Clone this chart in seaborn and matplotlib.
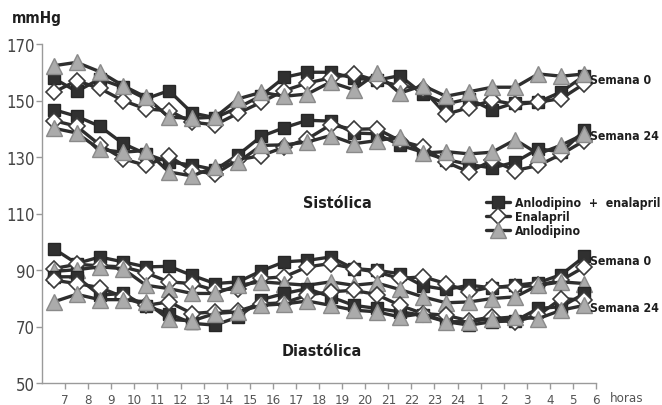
import numpy as np
import pandas as pd
import matplotlib
matplotlib.use("Agg")
import matplotlib.pyplot as plt
from matplotlib.lines import Line2D
from matplotlib import font_manager
import seaborn as sns

# Hourly ambulatory blood-pressure means (half-hour centred), 07h -> 06h
hour_labels = ["7", "8", "9", "10", "11", "12", "13", "14", "15", "16", "17", "18",
               "19", "20", "21", "22", "23", "24", "1", "2", "3", "4", "5", "6"]

# Systolic, week 0
sys0_combo = [157.9, 153.2, 157.6, 154.7, 150.6, 153.5, 145.6, 143.9, 147.5, 151.7, 158.2, 160.0,
              160.0, 157.9, 157.2, 158.8, 152.3, 148.8, 150.6, 146.6, 149.2, 149.4, 153.1, 158.8]
sys0_enal = [152.9, 157.0, 154.3, 150.0, 147.0, 146.4, 142.3, 141.4, 145.5, 149.4, 153.5, 156.2,
             158.0, 159.5, 157.0, 155.3, 154.0, 145.1, 147.5, 150.1, 148.6, 149.4, 150.7, 156.0]
sys0_anlo = [162.3, 163.5, 160.2, 155.3, 151.2, 144.1, 143.7, 144.1, 150.6, 152.9, 151.5, 152.3,
             156.5, 153.8, 159.6, 152.6, 155.3, 151.5, 153.1, 154.7, 154.7, 159.4, 158.6, 159.4]
# Systolic, week 24
sys24_combo = [146.8, 144.4, 140.9, 134.8, 131.1, 128.2, 127.2, 125.5, 130.8, 137.3, 140.4, 143.0,
               142.7, 138.5, 138.2, 134.2, 131.7, 129.1, 127.4, 126.1, 128.2, 132.9, 131.8, 139.4]
sys24_enal = [142.9, 140.9, 134.3, 129.4, 127.0, 130.3, 125.2, 124.0, 129.0, 130.5, 133.5, 136.4,
              141.4, 139.8, 140.0, 135.8, 133.5, 128.2, 124.7, 128.8, 125.2, 127.0, 131.0, 135.8]
sys24_anlo = [140.2, 138.5, 132.7, 131.7, 132.3, 124.7, 123.3, 126.4, 128.2, 134.1, 134.3, 135.3,
              137.6, 134.7, 135.8, 137.0, 131.4, 131.9, 131.1, 131.7, 136.1, 131.1, 134.2, 138.2]
# Diastolic, week 0
dia0_combo = [97.6, 92.3, 94.6, 92.9, 91.1, 91.3, 88.1, 85.2, 85.8, 89.7, 92.9, 93.4,
              94.6, 90.5, 89.9, 88.7, 84.4, 83.1, 84.6, 83.7, 84.6, 85.5, 88.4, 94.8]
dia0_enal = [90.5, 92.0, 91.5, 91.1, 89.0, 85.8, 85.2, 82.8, 83.4, 87.0, 87.6, 91.1,
             92.3, 90.5, 89.3, 87.0, 87.6, 85.2, 82.3, 84.0, 84.0, 84.6, 86.4, 91.1]
dia0_anlo = [89.5, 90.1, 91.1, 90.5, 84.6, 83.4, 81.7, 81.7, 84.6, 85.8, 85.2, 84.6,
             85.8, 84.6, 85.4, 83.1, 80.5, 78.4, 78.7, 79.9, 80.5, 84.6, 85.8, 85.2]
# Diastolic, week 24
dia24_combo = [87.6, 87.6, 81.1, 81.7, 77.2, 74.6, 71.1, 70.5, 73.4, 79.5, 81.7, 83.4,
               80.5, 77.5, 76.4, 75.2, 74.0, 71.7, 70.5, 71.7, 72.0, 76.4, 77.0, 81.7]
dia24_enal = [86.4, 85.2, 83.8, 80.5, 77.5, 78.7, 74.6, 75.2, 75.5, 78.0, 78.4, 81.1,
              82.3, 82.8, 81.3, 77.5, 74.6, 74.0, 72.0, 73.4, 71.7, 74.0, 79.9, 79.3]
dia24_anlo = [78.7, 81.4, 79.5, 79.5, 78.7, 72.5, 72.0, 74.6, 75.2, 77.5, 78.0, 79.0,
              77.5, 75.8, 75.2, 73.4, 74.6, 71.7, 71.7, 72.8, 73.4, 72.8, 75.8, 77.5]

groups = ["Anlodipino  +  enalapril", "Enalapril", "Anlodipino"]

# half-hour positions: 06:30 ... 05:30 of the next day
positions = np.arange(len(hour_labels)) + 6.5
tick_pos = np.arange(len(hour_labels)) + 7

series = {
    ("sys", "0"): [sys0_combo, sys0_enal, sys0_anlo],
    ("sys", "24"): [sys24_combo, sys24_enal, sys24_anlo],
    ("dia", "0"): [dia0_combo, dia0_enal, dia0_anlo],
    ("dia", "24"): [dia24_combo, dia24_enal, dia24_anlo],
}
rows = []
for (pressure, week), vals in series.items():
    for grp, v in zip(groups, vals):
        for x, y in zip(positions, v):
            rows.append({"pressure": pressure, "week": week, "grupo": grp,
                         "hora": x, "mmHg": y})
df = pd.DataFrame(rows)

sns.set_theme(style="white")

# narrow face for all labels
installed = {f.name for f in font_manager.fontManager.ttflist}
narrow = [n for n in ("Liberation Sans Narrow", "DejaVu Sans") if n in installed]
plt.rcParams["font.family"] = narrow + ["DejaVu Sans"]
plt.rcParams["font.stretch"] = "condensed"

line_col = "#2e2e2e"
styles = {
    "Anlodipino  +  enalapril": dict(marker="s", markersize=9, markerfacecolor="#303030",
                                     markeredgecolor="#262626", markeredgewidth=1.0),
    "Enalapril": dict(marker="D", markersize=7.8, markerfacecolor="white",
                      markeredgecolor="#3a3a3a", markeredgewidth=1.2),
    "Anlodipino": dict(marker="^", markersize=11, markerfacecolor="#ababab",
                       markeredgecolor="#8a8a8a", markeredgewidth=1.0),
}

fig = plt.figure(figsize=(6.62, 4.06), dpi=100)
ax = fig.add_axes([42 / 662, 22 / 406, (596 - 42) / 662, (384 - 45) / 406])

for (pressure, week), sub in df.groupby(["pressure", "week"], sort=False):
    for grp in groups:
        d = sub[sub["grupo"] == grp]
        sns.lineplot(data=d, x="hora", y="mmHg", ax=ax, color=line_col, linewidth=2.4,
                     estimator=None, sort=False, legend=False, clip_on=False,
                     **styles[grp])

ax.set_xlim(6, 30)
ax.set_ylim(50, 170)
ax.set_yticks(np.arange(50, 171, 20))
ax.set_xticks(tick_pos)
ax.set_xticklabels(hour_labels)
ax.set_xlabel("")
ax.set_ylabel("")
for side in ("top", "right"):
    ax.spines[side].set_visible(False)
for side in ("left", "bottom"):
    ax.spines[side].set_color("#9a9a9a")
    ax.spines[side].set_linewidth(1.0)
ax.tick_params(axis="y", which="both", left=True, direction="out", length=4, width=1,
               color="#9a9a9a", labelsize=12, labelcolor="#444444", pad=1)
ax.tick_params(axis="x", which="both", bottom=True, direction="out", length=4, width=1,
               color="#9a9a9a", labelsize=9.5, labelcolor="#555555", pad=3)

bold = dict(fontweight="bold", color="#1e1e1e")
fig.text(12 / 662, 1 - 18 / 406, "mmHg", fontsize=11, va="center", ha="left", **bold)
ax.text(18.8, 113.8, "Sistólica", fontsize=11.5, ha="center", va="center", **bold)
ax.text(18.1, 61.5, "Diastólica", fontsize=11.5, ha="center", va="center", **bold)
fig.text(627 / 662, 1 - 399 / 406, "horas", fontsize=9.5, ha="center", va="center",
         color="#555555")

for yv, lab in [(157.4, "Semana 0"), (137.6, "Semana 24"),
                (93.3, "Semana 0"), (76.6, "Semana 24")]:
    ax.text(29.72, yv, lab, fontsize=8.8, ha="left", va="center", clip_on=False, **bold)

handles = [Line2D([0], [0], color=line_col, linewidth=2.4, **styles[g]) for g in groups]
leg = fig.legend(handles, groups, loc="upper left",
                 bbox_to_anchor=(486 / 662, 1 - 197 / 406), frameon=False,
                 handlelength=2.0, handletextpad=0.4, labelspacing=0.1,
                 borderaxespad=0, borderpad=0,
                 prop={"weight": "bold", "size": 8.8, "stretch": "condensed",
                       "family": narrow + ["DejaVu Sans"]})
for t in leg.get_texts():
    t.set_color("#1e1e1e")

fig.savefig("out.png", dpi=100)
